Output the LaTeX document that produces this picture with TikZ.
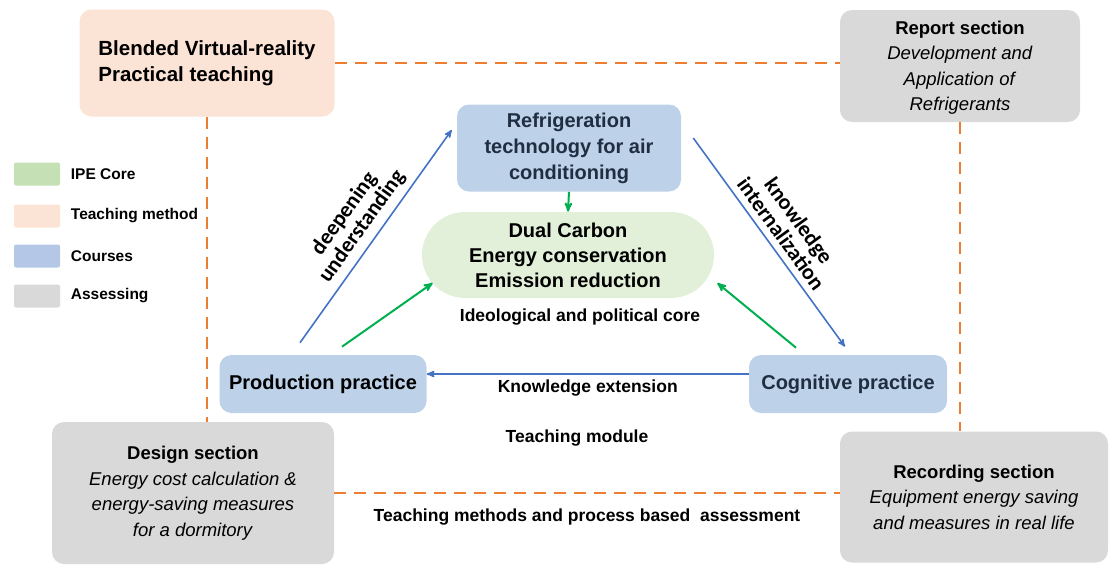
\documentclass[tikz,border=0pt]{standalone}
\usepackage{fontspec}
\setmainfont{Liberation Sans}
\newfontfamily\calfont{Carlito}
\usetikzlibrary{arrows,positioning}

\definecolor{ipecore}{HTML}{C5E0B4}
\definecolor{ipefill}{HTML}{E2F0D9}
\definecolor{methodfill}{HTML}{FBE3D6}
\definecolor{coursefill}{HTML}{BDD1E9}
\definecolor{legcourse}{HTML}{B4C7E7}
\definecolor{assessfill}{HTML}{D9D9D9}
\definecolor{dashorange}{HTML}{ED7D31}
\definecolor{linkblue}{HTML}{4472C4}
\definecolor{linkgreen}{HTML}{00B050}
\definecolor{navytext}{HTML}{1F2E40}

\begin{document}
\begin{tikzpicture}[x=1pt,y=-1pt,>=stealth',semithick]
	\tikzstyle{box}=[rounded corners=12pt,align=center,inner sep=2pt]
	\tikzstyle{course}=[box,fill=coursefill,text=navytext,font=\bfseries\fontsize{20}{26}\selectfont]
	\tikzstyle{assess}=[box,fill=assessfill,font=\fontsize{18.5}{25.5}\selectfont]
	\tikzstyle{legbox}=[rounded corners=2pt,minimum width=46pt,minimum height=23pt,inner sep=0pt]
	\tikzstyle{legtext}=[anchor=west,font=\bfseries\fontsize{15.5}{18}\selectfont]
	\tikzstyle{plain}=[font=\bfseries\fontsize{17.5}{21}\selectfont]
	\tikzstyle{slant}=[sloped,above=3pt,align=center,font=\calfont\bfseries\fontsize{22}{22}\selectfont]
	\tikzstyle{bluelink}=[->,draw=linkblue,line width=1.6pt]
	\tikzstyle{greenlink}=[->,draw=linkgreen,line width=2pt]
	\tikzstyle{frame}=[draw=dashorange,line width=2.6pt,dash pattern=on 12pt off 8pt]

	\useasboundingbox (0,0) rectangle (1109,565);

	% outer boxes
	\node[box,fill=methodfill,minimum width=255pt,minimum height=107pt,font=\bfseries\fontsize{20.5}{26}\selectfont,align=left] (Blended) at (207,63) {Blended Virtual-reality\\Practical teaching};
	\node[assess,minimum width=240pt,minimum height=112pt,text depth=-6pt] (Report) at (960,66) {\textbf{Report section}\\\textit{Development and}\\\textit{Application of}\\\textit{Refrigerants}};
	\node[assess,minimum width=282pt,minimum height=142pt] (Design) at (193,493) {\textbf{Design section}\\\textit{Energy cost calculation \&}\\\textit{energy-saving measures}\\\textit{for a dormitory}};
	\node[assess,minimum width=268pt,minimum height=131pt] (Recording) at (974,497) {\textbf{Recording section}\\\textit{Equipment energy saving}\\\textit{and measures in real life}};

	% teaching module
	\node[course,minimum width=224pt,minimum height=87pt] (Refrigeration) at (569,148) {Refrigeration\\technology for air\\conditioning};
	\node[box,rounded corners=43pt,fill=ipefill,minimum width=292pt,minimum height=86pt,font=\bfseries\fontsize{20}{25}\selectfont] (Dual) at (568,255) {Dual Carbon\\Energy conservation\\Emission reduction};
	\node[course,text=black,minimum width=207pt,minimum height=58pt] (Production) at (323,384) {Production practice};
	\node[course,minimum width=198pt,minimum height=58pt] (Cognitive) at (848,384) {Cognitive practice};

	\node[plain] (core) [below=7pt of Dual,xshift=12pt] {Ideological and political core};
	\node[plain] (module) at (577,438) {Teaching module};

	% legend
	\node[legbox,fill=ipecore] (legIPE) at (37,174) {};
	\node[legbox,fill=methodfill] (legMethod) at (37,216) {};
	\node[legbox,fill=legcourse] (legCourse) at (37,256) {};
	\node[legbox,fill=assessfill] (legAssess) at (37,296) {};
	\node[legtext] (txtIPE) [right=7pt of legIPE] {IPE Core};
	\node[legtext] (txtMethod) [right=7pt of legMethod] {Teaching method};
	\node[legtext] (txtCourse) [right=7pt of legCourse] {Courses};
	\node[legtext] (txtAssess) [right=7pt of legAssess] {Assessing};

	% dashed frame
	\draw[frame] (Blended.east) -- (Blended.east -| Report.west);
	\draw[frame] (Blended.south) -- (Blended.south |- Design.north);
	\draw[frame] (Report.south) -- (Report.south |- Recording.north);
	\draw[frame] (Design.east) -- (Design.east -| Recording.west)
		node[midway,below=11pt,plain,draw=none] (assessment) {Teaching methods and process based\ \ assessment};

	% links
	\draw[bluelink] ([xshift=-23pt,yshift=12pt]Production.north) -- node[slant] {deepening\\understanding} ([xshift=-5pt,yshift=18pt]Refrigeration.west);
	\draw[bluelink] ([xshift=12pt,yshift=10pt]Refrigeration.east) -- node[slant] {knowledge\\internalization} ([xshift=-3pt,yshift=8pt]Cognitive.north);
	\draw[bluelink] ([yshift=10pt]Cognitive.west) -- node[below=2pt,plain] {Knowledge extension} ([yshift=10pt]Production.east);

	\draw[greenlink] (Refrigeration.south) -- (Dual.north);
	\draw[greenlink] ([xshift=19pt,yshift=8pt]Production.north) -- ([xshift=11pt,yshift=-28pt]Dual.west);
	\draw[greenlink] ([xshift=-52pt,yshift=7pt]Cognitive.north) -- ([xshift=3pt,yshift=-28pt]Dual.east);
\end{tikzpicture}
\end{document}
